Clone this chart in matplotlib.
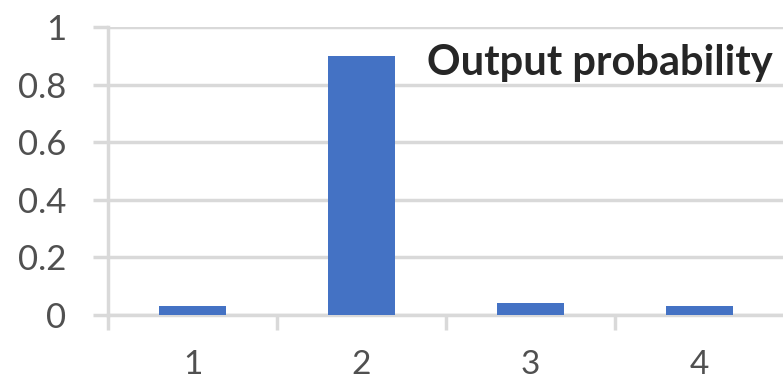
import matplotlib.pyplot as plt
import numpy as np

categories = ['1', '2', '3', '4']
probability = [0.03, 0.90, 0.04, 0.03]
y_ticks = [0, 0.2, 0.4, 0.6, 0.8, 1]
y_labels = ['0', '0.2', '0.4', '0.6', '0.8', '1']

plt.rcParams['font.family'] = ['Lato', 'DejaVu Sans']

fig = plt.figure(figsize=(7.83, 3.84), dpi=100)
ax = fig.add_axes([108 / 783, 1 - 315 / 384, 676 / 783, 288 / 384])

x = np.arange(1, len(categories) + 1)
ax.bar(x, probability, width=0.4, color='#4472C4', zorder=3)

ax.set_xlim(0.5, len(categories) + 0.5)
ax.set_ylim(0, 1)

grid_color = '#d9d9d9'
ax.set_yticks(y_ticks)
ax.set_yticklabels(y_labels)
ax.yaxis.grid(True, color=grid_color, lw=2.5, zorder=0)
ax.tick_params(axis='y', length=11, width=2.5, color=grid_color, pad=19,
               labelsize=25, labelcolor='#505050')

ax.set_xticks(x)
ax.set_xticklabels(categories)
ax.set_xticks(np.arange(0.5, len(categories) + 0.5, 1), minor=True)
ax.tick_params(axis='x', which='major', length=0, pad=25,
               labelsize=24, labelcolor='#505050')
ax.tick_params(axis='x', which='minor', length=11, width=2.5, color=grid_color)

for side in ['top', 'right']:
    ax.spines[side].set_visible(False)
ax.spines['left'].set_color(grid_color)
ax.spines['left'].set_linewidth(2.5)
ax.spines['bottom'].set_color(grid_color)
ax.spines['bottom'].set_linewidth(2.5)

ax.text(0.472, 0.875, 'Output probability', transform=ax.transAxes,
        fontsize=30, fontweight='bold', color='#262626', va='center', ha='left',
        zorder=4)

fig.savefig('out.png', dpi=100)
